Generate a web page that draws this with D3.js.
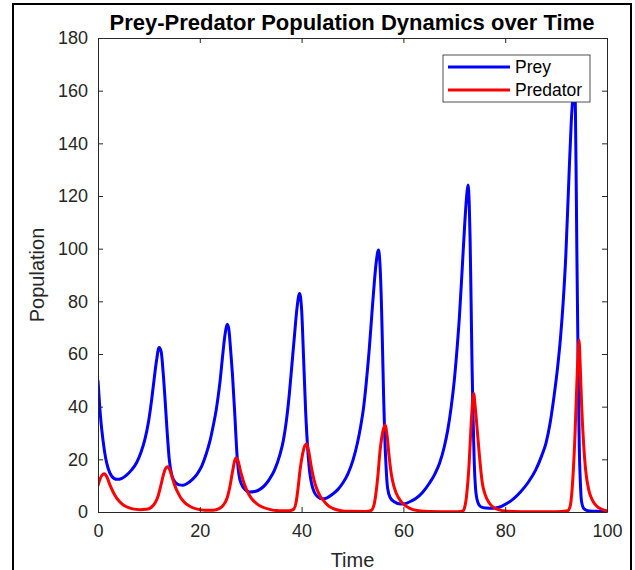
<!DOCTYPE html>
<html>
<head>
<meta charset="utf-8">
<script src="https://cdn.jsdelivr.net/npm/d3@7"></script>
<style>
    body { margin: 0; background: #fff; }
    svg { display: block; font-family: "Liberation Sans", Arial, Helvetica, sans-serif; }
</style>
</head>
<body>
<svg id="chart" width="635" height="570"></svg>
<script>
// values
const preyTime = [0, 0.5, 1.0, 1.5, 2.0, 2.7, 3.7, 4.7, 5.6, 6.6, 7.6, 8.5, 9.2, 9.9, 10.5, 11.0, 11.5, 12.0, 12.4, 12.8,
    13.2, 13.6, 14.0, 14.5, 15.2, 16.0, 16.7, 17.5, 18.5, 19.4, 20.4, 21.3, 22.0, 22.6, 23.2, 23.6, 24.0, 24.4, 24.8, 25.1,
    25.4, 25.7, 26.0, 26.4, 26.9, 27.3, 27.7, 28.2, 29.0, 29.8, 30.8, 31.8, 32.8, 33.7, 34.7, 35.7, 36.4, 37.0, 37.6, 38.1,
    38.6, 39.1, 39.6, 40.0, 40.4, 40.8, 41.2, 41.6, 42.0, 42.5, 43.2, 44.0, 45.0, 46.1, 47.1, 48.1, 49.1, 50.1, 51.0, 51.6,
    52.2, 52.7, 53.3, 53.8, 54.3, 54.7, 55.1, 55.4, 55.7, 55.9, 56.1, 56.3, 56.6, 56.9, 57.4, 58.2, 59.5, 60.7, 61.6, 62.5,
    63.8, 65.1, 66.2, 67.1, 68.0, 68.7, 69.4, 70.0, 70.5, 71.0, 71.6, 72.1, 72.5, 72.7, 72.95, 73.1, 73.3, 73.5, 73.7, 73.9,
    74.2, 74.6, 75.2, 76.2, 77.5, 78.8, 80.1, 81.5, 83.0, 84.5, 86.0, 87.2, 88.0, 88.8, 89.6, 90.3, 90.9, 91.4, 91.9, 92.5,
    93.0, 93.4, 93.6, 93.8, 93.95, 94.1, 94.25, 94.4, 94.55, 94.75, 95.0, 95.5, 96.5, 98, 100];
const preyValues = [50, 36, 27, 20.5, 16.5, 13.6, 12.4, 12.8, 14, 16, 18.8, 23, 27.5, 34, 42, 50, 57.5, 62.5, 61, 53,
    42, 30, 20, 14, 11.2, 10.3, 10.2, 10.8, 12.3, 14.2, 17.5, 22.3, 27, 32.4, 38.5, 43.8, 50, 57.7, 65, 69.1,
    71.3, 69.5, 63, 52.7, 36.2, 22, 14, 10.5, 8.3, 7.6, 7.8, 8.6, 10.2, 12.5, 16, 21.5, 27, 34.5, 45, 56,
    67, 77.5, 83, 77, 58, 38, 24, 15, 10.5, 7.5, 5.7, 5.0, 5.4, 6.8, 8.5, 11, 14.5, 19.7, 26.5, 32.5,
    40, 49, 62, 75, 87.5, 95.5, 99.5, 94, 78, 62, 45, 31, 17, 9, 5.5, 3.9, 3.0, 3.4, 4.2, 5.2,
    7.5, 10.9, 14.5, 18.5, 24.5, 31, 40, 50, 61, 74, 94, 111, 121.5, 124.2, 116, 104, 80, 54, 35, 20,
    8.4, 3.8, 2.0, 1.5, 1.4, 1.8, 3.0, 4.8, 7.6, 11.2, 16, 21.5, 26.1, 33.5, 44, 55, 67, 80, 97, 126,
    149, 160, 164, 152, 125, 95, 70, 45, 25, 12, 4, 1.2, 0.4, 0.25, 0.2];

const predatorTime = [0, 0.4, 0.8, 1.25, 1.7, 2.3, 3.0, 3.7, 4.6, 5.6, 6.8, 8.2, 9.5, 10.5, 11.2, 11.8, 12.4, 12.9, 13.3, 13.7,
    14.1, 14.6, 15.1, 15.8, 16.4, 17.2, 18.2, 19.5, 21.0, 22.6, 23.8, 24.7, 25.4, 25.9, 26.4, 26.8, 27.1, 27.5, 28.0, 28.6,
    29.2, 30.1, 31.1, 32.4, 33.7, 35.5, 37.5, 38.4, 38.9, 39.3, 39.7, 40.2, 40.6, 41.0, 41.4, 41.9, 42.4, 42.9, 43.6, 44.2,
    45.1, 46.1, 47.5, 49.5, 52.5, 53.6, 54.2, 54.6, 55.0, 55.4, 55.9, 56.4, 56.8, 57.2, 57.6, 58.1, 58.6, 59.4, 60.2, 61.5,
    63.0, 65, 70, 71.6, 72.0, 72.4, 72.9, 73.3, 73.6, 73.8, 74.1, 74.6, 75.1, 75.5, 76.0, 76.9, 77.8, 78.8, 80.5, 83,
    90, 92.3, 92.8, 93.2, 93.7, 94.1, 94.5, 94.75, 95.0, 95.4, 95.8, 96.4, 97.1, 98.0, 99.1, 100];
const predatorValues = [10, 12.5, 14, 14.5, 13.5, 10.5, 7.5, 5.2, 3.3, 2.0, 1.2, 0.9, 1.0, 1.8, 3.4, 6, 10.5, 14.5, 16.6, 17.2,
    16, 13, 10, 7, 5, 3.3, 2.0, 1.1, 0.7, 0.7, 1.3, 2.8, 5.5, 9.5, 15, 19, 20.5, 19.5, 15.5, 11.5,
    8.4, 5.3, 3.3, 1.8, 1.0, 0.5, 0.45, 1.0, 3.5, 9, 16, 22, 25, 25.8, 23, 17.2, 12.5, 9.2, 6.2, 4.6,
    2.6, 1.4, 0.6, 0.25, 0.2, 0.5, 2.5, 7, 14, 23, 30, 33, 29, 21, 14.7, 10, 7.1, 4.3, 2.7, 1.2,
    0.5, 0.2, 0.1, 0.3, 1.5, 6, 18, 33, 42, 45, 40, 29, 18, 11, 7, 3.3, 1.6, 0.8, 0.3, 0.1,
    0.05, 0.5, 2.5, 10, 28.6, 50, 65.3, 55, 41.3, 26, 16, 8.5, 4.6, 2.2, 0.9, 0.5];

const xTicks = [0, 20, 40, 60, 80, 100];
const yTicks = [0, 20, 40, 60, 80, 100, 120, 140, 160, 180];
const seriesNames = ["Prey", "Predator"];
const seriesColors = ["#0000ff", "#ff0000"];

const svg = d3.select("#chart");
const plot = {left: 98, right: 607, top: 38, bottom: 512};
const axisColor = "#262626";

const x = d3.scaleLinear().domain([0, 100]).range([plot.left, plot.right]);
const y = d3.scaleLinear().domain([0, 180]).range([plot.bottom, plot.top]);

// figure frame
svg.append("rect")
    .attr("x", 13).attr("y", 4)
    .attr("width", 618).attr("height", 580)
    .attr("fill", "none").attr("stroke", "#000").attr("stroke-width", 2);

svg.append("clipPath").attr("id", "plotclip")
    .append("rect")
    .attr("x", plot.left).attr("y", plot.top)
    .attr("width", plot.right - plot.left).attr("height", plot.bottom - plot.top);

const line = d3.line()
    .x(d => x(d[0]))
    .y(d => y(d[1]))
    .curve(d3.curveMonotoneX);

const series = [
    d3.zip(preyTime, preyValues),
    d3.zip(predatorTime, predatorValues)
];

svg.append("g").attr("clip-path", "url(#plotclip)")
    .selectAll("path")
    .data(series)
    .join("path")
    .attr("d", line)
    .attr("fill", "none")
    .attr("stroke", (d, i) => seriesColors[i])
    .attr("stroke-width", 3)
    .attr("stroke-linejoin", "round");

// axes, ticks pointing inwards on all four sides
const tickLen = 5;
function styleAxis(g) {
    g.select(".domain").attr("stroke", axisColor);
    g.selectAll(".tick line").attr("stroke", axisColor);
    g.selectAll(".tick text").attr("fill", axisColor).style("font-size", "18px")
        .style("font-family", "\"Liberation Sans\", Arial, sans-serif");
}

svg.append("g")
    .attr("transform", `translate(0,${plot.bottom})`)
    .call(d3.axisBottom(x).tickValues(xTicks).tickSizeInner(-tickLen).tickSizeOuter(0).tickPadding(12))
    .call(styleAxis);

svg.append("g")
    .attr("transform", `translate(0,${plot.top})`)
    .call(d3.axisTop(x).tickValues(xTicks).tickSizeInner(-tickLen).tickSizeOuter(0).tickFormat(""))
    .call(styleAxis);

svg.append("g")
    .attr("transform", `translate(${plot.left},0)`)
    .call(d3.axisLeft(y).tickValues(yTicks).tickSizeInner(-tickLen).tickSizeOuter(0).tickPadding(10))
    .call(styleAxis);

svg.append("g")
    .attr("transform", `translate(${plot.right},0)`)
    .call(d3.axisRight(y).tickValues(yTicks).tickSizeInner(-tickLen).tickSizeOuter(0).tickFormat(""))
    .call(styleAxis);

// titles
svg.append("text")
    .attr("x", 352).attr("y", 30)
    .attr("text-anchor", "middle")
    .style("font-size", "22px").style("font-weight", "bold")
    .attr("fill", "#000")
    .text("Prey-Predator Population Dynamics over Time");

svg.append("text")
    .attr("x", (plot.left + plot.right) / 2).attr("y", 567)
    .attr("text-anchor", "middle")
    .style("font-size", "20px")
    .attr("fill", axisColor)
    .text("Time");

svg.append("text")
    .attr("transform", `translate(44,${(plot.top + plot.bottom) / 2}) rotate(-90)`)
    .attr("text-anchor", "middle")
    .style("font-size", "20px")
    .attr("fill", axisColor)
    .text("Population");

// legend
const legend = svg.append("g").attr("transform", "translate(443,55)");
legend.append("rect")
    .attr("width", 147).attr("height", 47)
    .attr("fill", "#fff").attr("stroke", axisColor).attr("stroke-width", 0.8);

const item = legend.selectAll("g.item")
    .data(seriesNames)
    .join("g")
    .attr("class", "item")
    .attr("transform", (d, i) => `translate(0,${12 + i * 23})`);

item.append("line")
    .attr("x1", 5).attr("x2", 67)
    .attr("stroke", (d, i) => seriesColors[i])
    .attr("stroke-width", 3);

item.append("text")
    .attr("x", 72).attr("y", 6)
    .style("font-size", "17.5px")
    .attr("fill", "#000")
    .text(d => d);
</script>
</body>
</html>
